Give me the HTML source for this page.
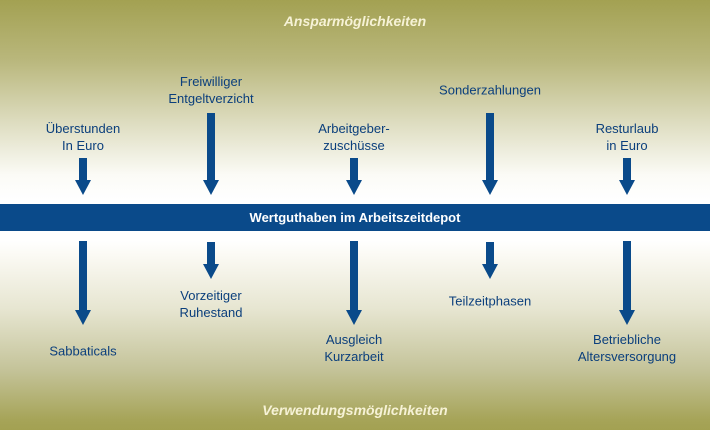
<!DOCTYPE html>
<html><head><meta charset="utf-8"><style>
html,body{margin:0;padding:0}
body{width:710px;height:430px;position:relative;overflow:hidden;font-family:"Liberation Sans",Arial,sans-serif;
background:linear-gradient(to bottom,#a3a152 0px,#b9b77c 60px,#dcdbbd 120px,#fbfbf6 175px,#ffffff 200px,#ffffff 240px,#fbfaf4 255px,#e6e5d0 310px,#c4c399 370px,#a6a458 420px,#a3a152 430px);}
.t{position:absolute;transform:translate(-50%,-50%);color:#0b3f7c;font-size:13px;line-height:17px;text-align:center;white-space:nowrap}
.h{position:absolute;left:0;width:710px;text-align:center;color:#f6f2d6;font-weight:bold;font-style:italic;font-size:14px;transform:translateY(-50%)}
.bar{position:absolute;left:0;top:204px;width:710px;height:27px;background:#0a4a8a;color:#fff;font-weight:bold;font-size:13px;line-height:27px;text-align:center}
svg{position:absolute;left:0;top:0}
</style></head><body>
<div class="h" style="top:21px">Ansparmöglichkeiten</div>
<div class="h" style="top:410px">Verwendungsmöglichkeiten</div>
<div class="bar">Wertguthaben im Arbeitszeitdepot</div>
<svg width="710" height="430" fill="#0a4a8a">
<!-- top arrows -->
<polygon points="79,158 87,158 87,180 91,180 83,195 75,180 79,180"/>
<polygon points="207,113 215,113 215,180 219,180 211,195 203,180 207,180"/>
<polygon points="350,158 358,158 358,180 362,180 354,195 346,180 350,180"/>
<polygon points="486,113 494,113 494,180 498,180 490,195 482,180 486,180"/>
<polygon points="623,158 631,158 631,180 635,180 627,195 619,180 623,180"/>
<!-- bottom arrows -->
<polygon points="79,241 87,241 87,310 91,310 83,325 75,310 79,310"/>
<polygon points="207,242 215,242 215,264 219,264 211,279 203,264 207,264"/>
<polygon points="350,241 358,241 358,310 362,310 354,325 346,310 350,310"/>
<polygon points="486,242 494,242 494,264 498,264 490,279 482,264 486,264"/>
<polygon points="623,241 631,241 631,310 635,310 627,325 619,310 623,310"/>
</svg>
<div class="t" style="left:83px;top:137px">Überstunden<br>In Euro</div>
<div class="t" style="left:211px;top:90px">Freiwilliger<br>Entgeltverzicht</div>
<div class="t" style="left:354px;top:137px">Arbeitgeber-<br>zuschüsse</div>
<div class="t" style="left:490px;top:90px">Sonderzahlungen</div>
<div class="t" style="left:627px;top:137px">Resturlaub<br>in Euro</div>
<div class="t" style="left:83px;top:351px">Sabbaticals</div>
<div class="t" style="left:211px;top:304px">Vorzeitiger<br>Ruhestand</div>
<div class="t" style="left:354px;top:348px">Ausgleich<br>Kurzarbeit</div>
<div class="t" style="left:490px;top:301px">Teilzeitphasen</div>
<div class="t" style="left:627px;top:348px">Betriebliche<br>Altersversorgung</div>
</body></html>
